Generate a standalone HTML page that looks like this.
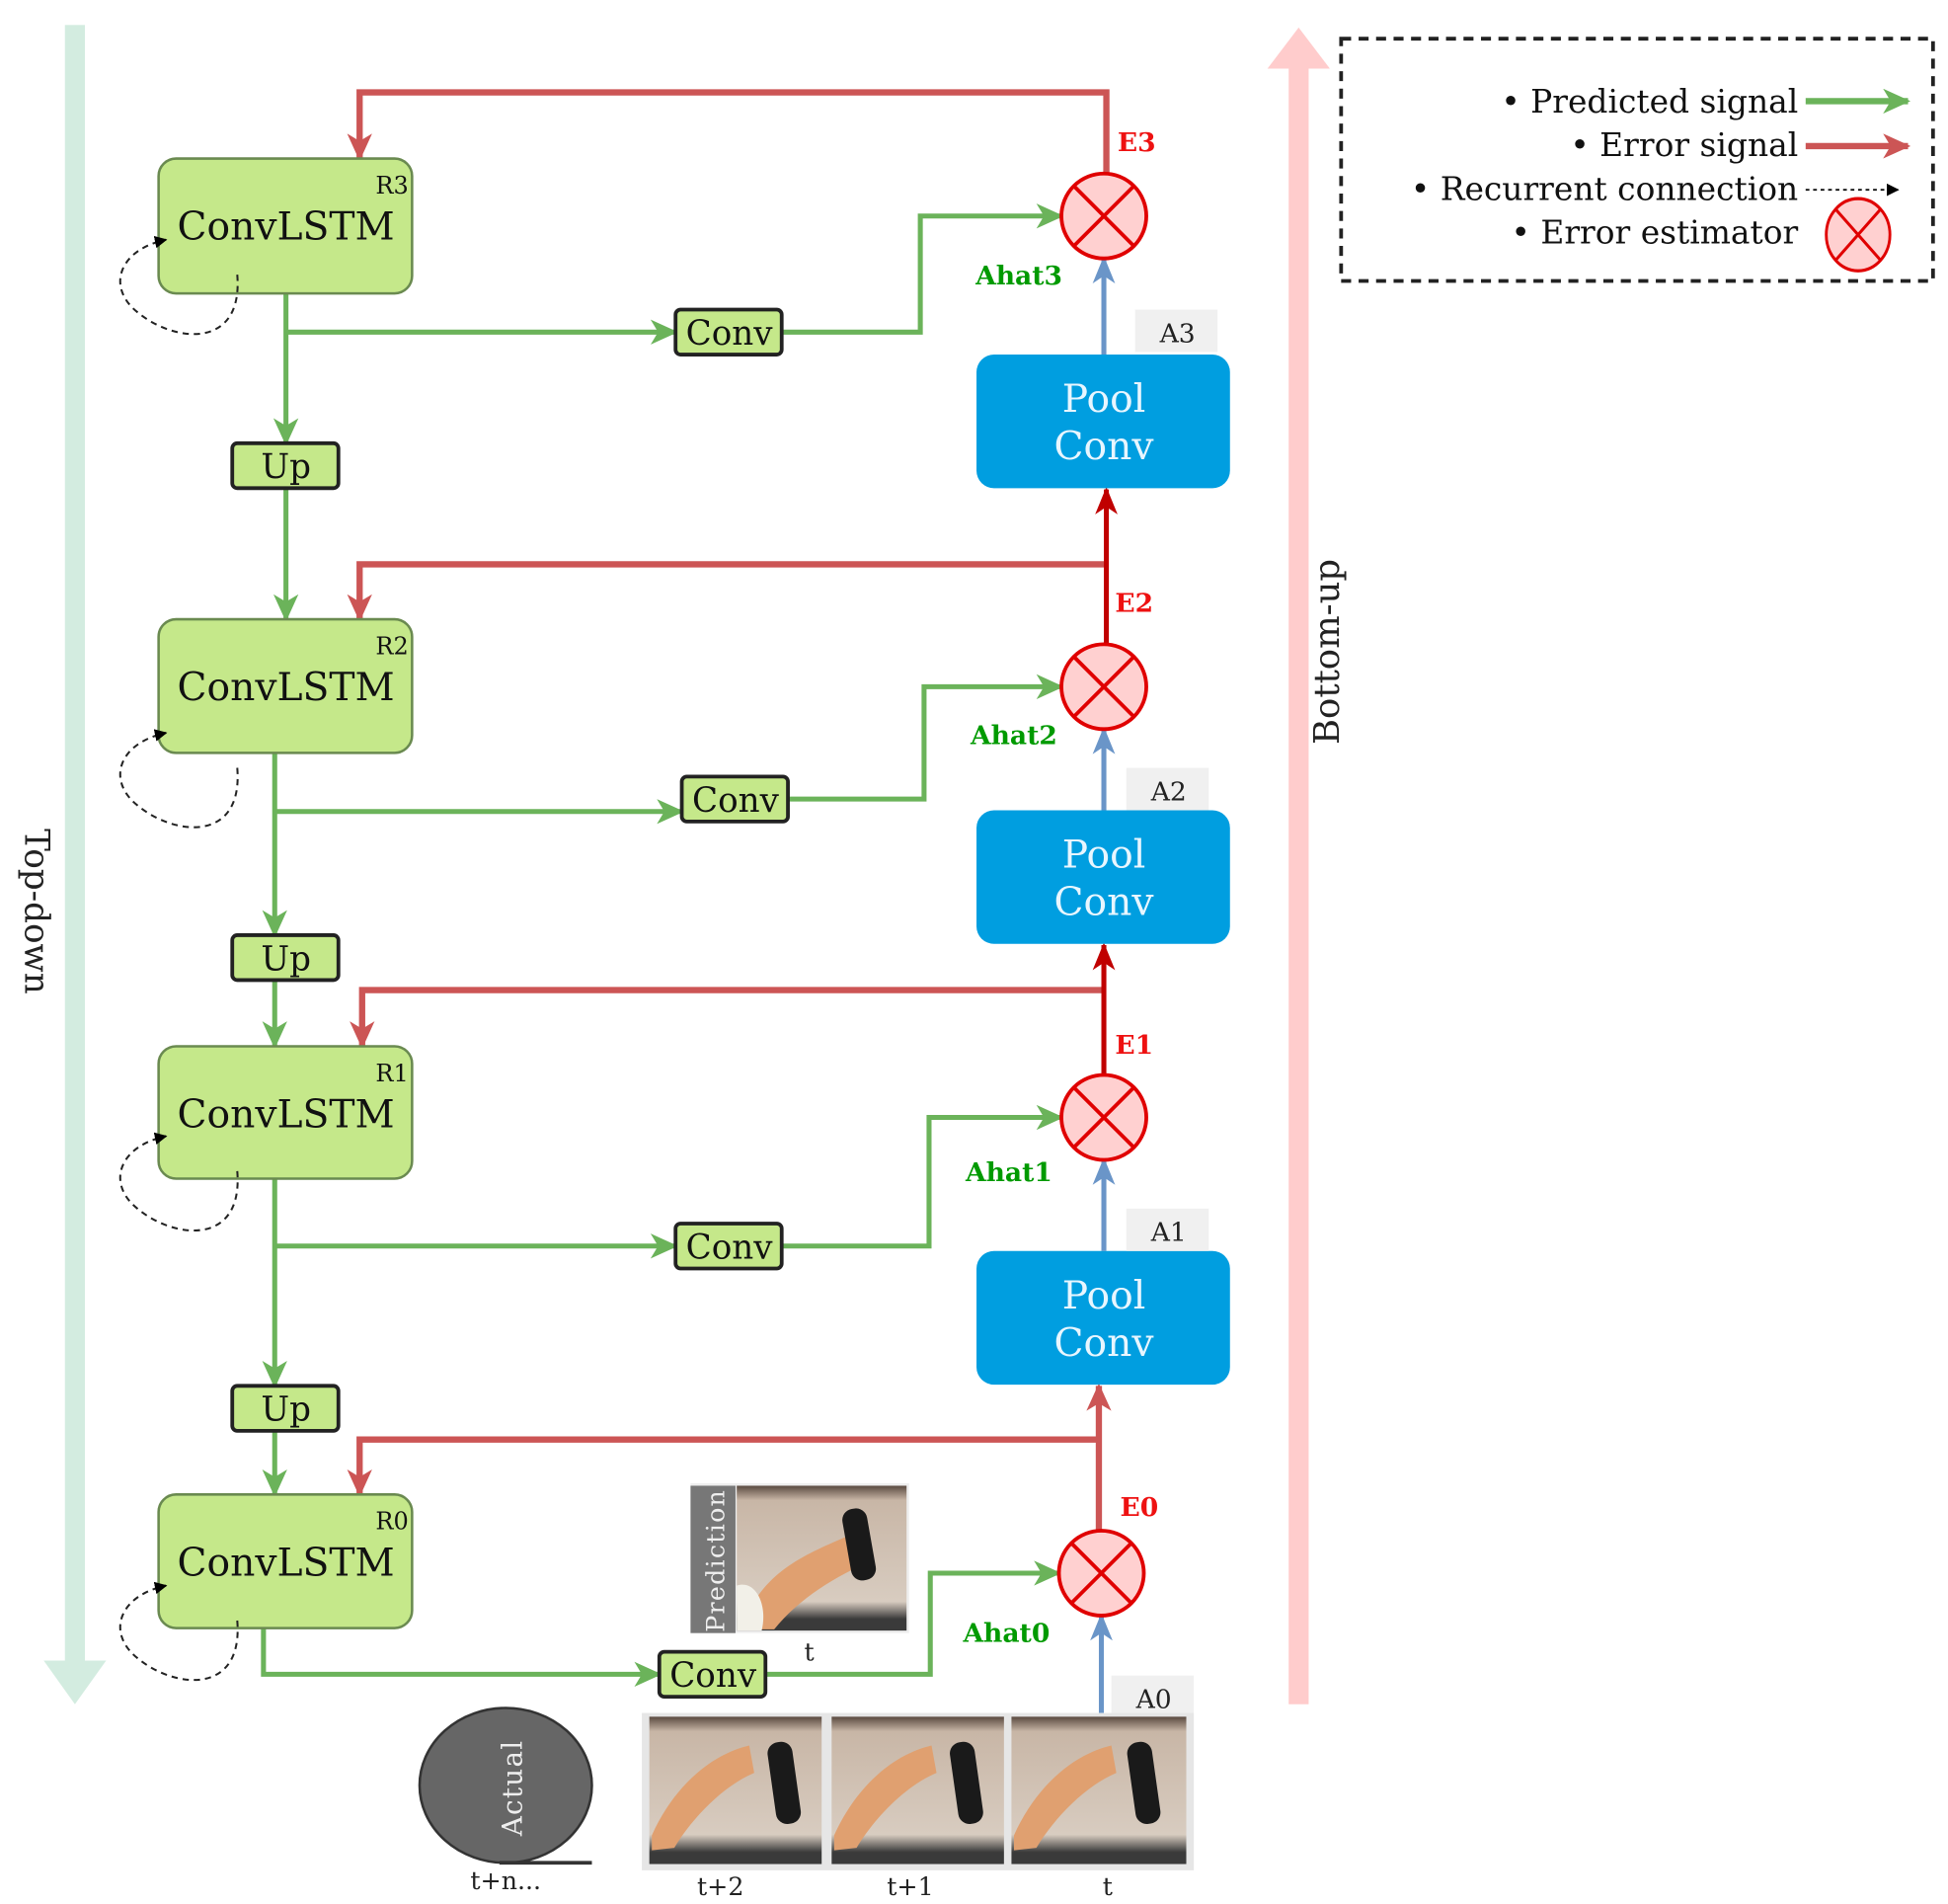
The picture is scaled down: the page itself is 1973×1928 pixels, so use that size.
<!DOCTYPE html>
<html><head><meta charset="utf-8"><style>
html,body{margin:0;padding:0;background:#fff;}
svg{display:block;}
text{font-family:"DejaVu Serif","Liberation Serif",serif;}
</style></head><body>
<svg width="1973" height="1928" viewBox="0 0 1560 1525" preserveAspectRatio="none" xmlns="http://www.w3.org/2000/svg">
<defs>
<marker id="g" markerWidth="22" markerHeight="20" refX="20" refY="10" orient="auto" markerUnits="userSpaceOnUse" viewBox="0 0 22 20"><path d="M0,0 L22,10 L0,20 L6,10z" fill="#6bb35a"/></marker>
<marker id="r" markerWidth="22" markerHeight="20" refX="20" refY="10" orient="auto" markerUnits="userSpaceOnUse" viewBox="0 0 22 20"><path d="M0,0 L22,10 L0,20 L6,10z" fill="#cc5555"/></marker>
<marker id="dr" markerWidth="22" markerHeight="18" refX="20" refY="9" orient="auto" markerUnits="userSpaceOnUse" viewBox="0 0 22 18"><path d="M0,0 L22,9 L0,18 L6,9z" fill="#c00000"/></marker>
<marker id="b" markerWidth="22" markerHeight="18" refX="20" refY="9" orient="auto" markerUnits="userSpaceOnUse" viewBox="0 0 22 18"><path d="M0,0 L22,9 L0,18 L6,9z" fill="#6a95c8"/></marker>
<marker id="k" markerWidth="10" markerHeight="10" refX="9" refY="5" orient="auto" markerUnits="userSpaceOnUse" viewBox="0 0 10 10"><path d="M0,0 L10,5 L0,10z" fill="#000"/></marker>
<g id="circ"><circle r="34" fill="#ffd0d0" stroke="#e00000" stroke-width="3"/><path d="M-24,-24 L24,24 M24,-24 L-24,24" stroke="#e00000" stroke-width="3"/></g>
<linearGradient id="ph" x1="0" y1="0" x2="0" y2="1"><stop offset="0" stop-color="#5a4a40"/><stop offset="0.1" stop-color="#c8b6a6"/><stop offset="0.8" stop-color="#d8ccc0"/><stop offset="0.92" stop-color="#3a3a3a"/></linearGradient>
</defs>

<rect x="52" y="20" width="16" height="1315" fill="#d3ece0"/>
<path d="M35,1330 L85,1330 L60,1365z" fill="#d3ece0"/>
<text transform="translate(20,730) rotate(90)" text-anchor="middle" font-size="27" fill="#222">Top-down</text>
<rect x="1032" y="50" width="16" height="1315" fill="#ffcccc"/>
<path d="M1015,55 L1065,55 L1040,22z" fill="#ffcccc"/>
<text transform="translate(1072,522) rotate(-90)" text-anchor="middle" font-size="28" fill="#222">Bottom-up</text>

<rect x="1074" y="31" width="474" height="194" fill="none" stroke="#222" stroke-width="3" stroke-dasharray="8,6"/>
<g font-size="26" text-anchor="end" fill="#111">
<text x="1440" y="90">• Predicted signal</text>
<text x="1440" y="125">• Error signal</text>
<text x="1440" y="160">• Recurrent connection</text>
<text x="1440" y="195">• Error estimator</text>
</g>
<line x1="1446" y1="81" x2="1528" y2="81" stroke="#6bb35a" stroke-width="5" marker-end="url(#g)"/>
<line x1="1446" y1="117" x2="1528" y2="117" stroke="#cc5555" stroke-width="5" marker-end="url(#r)"/>
<line x1="1446" y1="152" x2="1520" y2="152" stroke="#111" stroke-width="1.5" stroke-dasharray="3,3" marker-end="url(#k)"/>
<g transform="translate(1488,188) scale(0.75,0.85)"><use href="#circ"/></g>

<g fill="none" stroke="#cc5555" stroke-width="5">
<path d="M886,140 L886,74 L288,74 L288,127" marker-end="url(#r)"/>
<path d="M886,452 L288,452 L288,496" marker-end="url(#r)"/>
<path d="M884,793 L290,793 L290,838" marker-end="url(#r)"/>
<path d="M880,1153 L288,1153 L288,1197" marker-end="url(#r)"/>
<path d="M880,1226 L880,1110" marker-end="url(#r)"/>
</g>
<g fill="none" stroke="#c00000" stroke-width="4">
<path d="M886,516 L886,392" marker-end="url(#dr)"/>
<path d="M884,861 L884,757" marker-end="url(#dr)"/>
</g>

<g fill="none" stroke="#6bb35a" stroke-width="4">
<path d="M229,235 L229,355" marker-end="url(#g)"/>
<path d="M229,266 L541,266" marker-end="url(#g)"/>
<path d="M626,266 L737,266 L737,173 L850,173" marker-end="url(#g)"/>
<path d="M229,391 L229,496" marker-end="url(#g)"/>
<path d="M220,603 L220,749" marker-end="url(#g)"/>
<path d="M220,650 L546,650" marker-end="url(#g)"/>
<path d="M631,640 L740,640 L740,550 L850,550" marker-end="url(#g)"/>
<path d="M220,785 L220,838" marker-end="url(#g)"/>
<path d="M220,944 L220,1110" marker-end="url(#g)"/>
<path d="M220,998 L541,998" marker-end="url(#g)"/>
<path d="M626,998 L744,998 L744,895 L850,895" marker-end="url(#g)"/>
<path d="M220,1146 L220,1197" marker-end="url(#g)"/>
<path d="M211,1304 L211,1341 L528,1341" marker-end="url(#g)"/>
<path d="M613,1341 L745,1341 L745,1260 L848,1260" marker-end="url(#g)"/>
</g>

<g fill="none" stroke="#6a95c8" stroke-width="4">
<path d="M884,284 L884,207" marker-end="url(#b)"/>
<path d="M884,649 L884,584" marker-end="url(#b)"/>
<path d="M884,1002 L884,929" marker-end="url(#b)"/>
<path d="M882,1372 L882,1294" marker-end="url(#b)"/>
</g>

<g font-size="31" text-anchor="middle" fill="#111">
<g transform="translate(0,127)"><rect x="127" y="0" width="203" height="108" rx="14" fill="#c5e88a" stroke="#6a8a50" stroke-width="2"/><text x="229" y="65">ConvLSTM</text><text x="314" y="28" font-size="19">R3</text></g>
<g transform="translate(0,496)"><rect x="127" y="0" width="203" height="107" rx="14" fill="#c5e88a" stroke="#6a8a50" stroke-width="2"/><text x="229" y="65">ConvLSTM</text><text x="314" y="28" font-size="19">R2</text></g>
<g transform="translate(0,838)"><rect x="127" y="0" width="203" height="106" rx="14" fill="#c5e88a" stroke="#6a8a50" stroke-width="2"/><text x="229" y="65">ConvLSTM</text><text x="314" y="28" font-size="19">R1</text></g>
<g transform="translate(0,1197)"><rect x="127" y="0" width="203" height="107" rx="14" fill="#c5e88a" stroke="#6a8a50" stroke-width="2"/><text x="229" y="65">ConvLSTM</text><text x="314" y="28" font-size="19">R0</text></g>
</g>
<g fill="none" stroke="#222" stroke-width="1.6" stroke-dasharray="5,4">
<path d="M190,220 C195,280 140,275 110,250 C85,230 95,200 133,192" marker-end="url(#k)"/>
<path d="M190,615 C195,675 140,670 110,645 C85,625 95,595 133,587" marker-end="url(#k)"/>
<path d="M190,938 C195,998 140,993 110,968 C85,948 95,918 133,910" marker-end="url(#k)"/>
<path d="M190,1298 C195,1358 140,1353 110,1328 C85,1308 95,1278 133,1270" marker-end="url(#k)"/>
</g>

<g font-size="27" text-anchor="middle" fill="#111">
<rect x="186" y="355" width="85" height="36" rx="4" fill="#c5e88a" stroke="#222" stroke-width="3"/><text x="229" y="383">Up</text>
<rect x="186" y="749" width="85" height="36" rx="4" fill="#c5e88a" stroke="#222" stroke-width="3"/><text x="229" y="777">Up</text>
<rect x="186" y="1110" width="85" height="36" rx="4" fill="#c5e88a" stroke="#222" stroke-width="3"/><text x="229" y="1138">Up</text>
<rect x="541" y="248" width="85" height="36" rx="4" fill="#c5e88a" stroke="#222" stroke-width="3"/><text x="584" y="276">Conv</text>
<rect x="546" y="622" width="85" height="36" rx="4" fill="#c5e88a" stroke="#222" stroke-width="3"/><text x="589" y="650">Conv</text>
<rect x="541" y="980" width="85" height="36" rx="4" fill="#c5e88a" stroke="#222" stroke-width="3"/><text x="584" y="1008">Conv</text>
<rect x="528" y="1323" width="85" height="36" rx="4" fill="#c5e88a" stroke="#222" stroke-width="3"/><text x="571" y="1351">Conv</text>
</g>

<g font-size="31" text-anchor="middle" fill="#e8f6ff">
<rect x="782" y="284" width="203" height="107" rx="14" fill="#009ee0"/><text x="884" y="330">Pool</text><text x="884" y="368">Conv</text>
<rect x="782" y="649" width="203" height="107" rx="14" fill="#009ee0"/><text x="884" y="695">Pool</text><text x="884" y="733">Conv</text>
<rect x="782" y="1002" width="203" height="107" rx="14" fill="#009ee0"/><text x="884" y="1048">Pool</text><text x="884" y="1086">Conv</text>
</g>
<g font-size="21" text-anchor="middle" fill="#222">
<rect x="909" y="248" width="66" height="34" fill="#f0f0f0"/><text x="943" y="274">A3</text>
<rect x="902" y="615" width="66" height="34" fill="#f0f0f0"/><text x="936" y="641">A2</text>
<rect x="902" y="968" width="66" height="34" fill="#f0f0f0"/><text x="936" y="994">A1</text>
<rect x="890" y="1342" width="66" height="30" fill="#f0f0f0"/><text x="924" y="1368">A0</text>
</g>

<use href="#circ" x="884" y="173"/>
<use href="#circ" x="884" y="550"/>
<use href="#circ" x="884" y="895"/>
<use href="#circ" x="882" y="1260"/>

<g font-size="21" font-weight="bold" fill="#ee1111">
<text x="895" y="121">E3</text><text x="893" y="490">E2</text><text x="893" y="844">E1</text><text x="897" y="1214">E0</text>
</g>
<g font-size="21" font-weight="bold" fill="#009a00" text-anchor="middle">
<text x="816" y="228">Ahat3</text><text x="812" y="596">Ahat2</text><text x="808" y="946">Ahat1</text><text x="806" y="1315">Ahat0</text>
</g>

<rect x="553" y="1188" width="175" height="120" fill="#eee"/>
<rect x="553" y="1190" width="36" height="118" fill="#777"/>
<text transform="translate(580,1250) rotate(-90)" text-anchor="middle" font-size="20" fill="#eee" letter-spacing="1">Prediction</text>
<rect x="590" y="1190" width="136" height="116" fill="url(#ph)"/>
<path d="M600,1290 C620,1250 660,1240 690,1225 L698,1250 C670,1262 640,1280 620,1305 L600,1305z" fill="#e0a070"/>
<rect x="678" y="1208" width="20" height="58" rx="9" fill="#1a1a1a" transform="rotate(-10,688,1237)"/>
<path d="M590,1270 C605,1265 615,1285 610,1306 L590,1306z" fill="#f2f0e8"/>
<text x="648" y="1330" font-size="20" text-anchor="middle" fill="#222">t</text>

<rect x="514" y="1372" width="442" height="126" fill="#e6e6e6"/>
<g>
<rect x="520" y="1375" width="138" height="118" fill="url(#ph)"/>
<path d="M522,1470 C540,1430 570,1405 600,1398 L604,1420 C580,1430 555,1455 540,1480 L522,1482z" fill="#e0a070"/>
<rect x="618" y="1395" width="20" height="66" rx="9" fill="#1a1a1a" transform="rotate(-8,628,1428)"/>
</g>
<g>
<rect x="666" y="1375" width="138" height="118" fill="url(#ph)"/>
<path d="M668,1470 C686,1430 716,1405 746,1398 L750,1420 C726,1430 701,1455 686,1480 L668,1482z" fill="#e0a070"/>
<rect x="764" y="1395" width="20" height="66" rx="9" fill="#1a1a1a" transform="rotate(-8,774,1428)"/>
</g>
<g>
<rect x="810" y="1375" width="140" height="118" fill="url(#ph)"/>
<path d="M812,1470 C830,1430 860,1405 890,1398 L894,1420 C870,1430 845,1455 830,1480 L812,1482z" fill="#e0a070"/>
<rect x="906" y="1395" width="20" height="66" rx="9" fill="#1a1a1a" transform="rotate(-8,916,1428)"/>
</g>
<g font-size="20" text-anchor="middle" fill="#222">
<text x="577" y="1518">t+2</text><text x="729" y="1518">t+1</text><text x="887" y="1518">t</text>
<text x="405" y="1513">t+n...</text>
</g>
<ellipse cx="405" cy="1430" rx="69" ry="62" fill="#666" stroke="#333" stroke-width="2"/>
<line x1="400" y1="1492" x2="474" y2="1492" stroke="#333" stroke-width="3"/>
<text transform="translate(418,1432) rotate(-90)" text-anchor="middle" font-size="22" fill="#eee" letter-spacing="1">Actual</text>
</svg>
</body></html>
